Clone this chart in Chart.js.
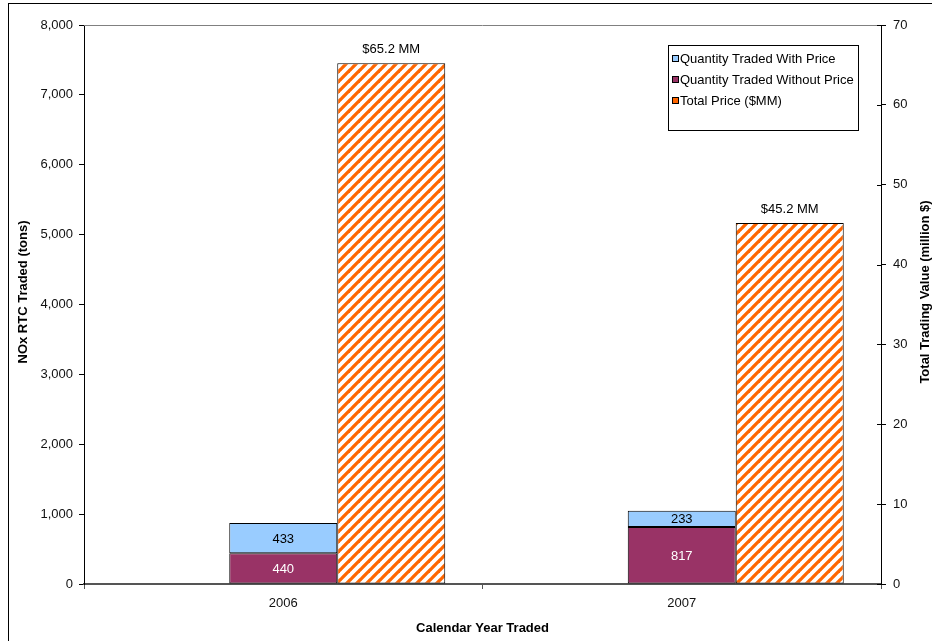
<!DOCTYPE html>
<html>
<head>
<meta charset="utf-8">
<script src="https://cdn.jsdelivr.net/npm/chart.js@4.4.1/dist/chart.umd.min.js"></script>
<style>
  body { margin: 0; background: #fff; }
  #wrap { width: 932px; height: 641px; position: relative; }
</style>
</head>
<body>
<div id="wrap"><canvas id="myChart" width="932" height="641"></canvas></div>
<script>
'use strict';

// data
let years = ['2006', '2007'];
let tradedWithoutPrice = [440, 817];
let tradedWithPrice = [433, 233];
let totalPrice = [65.2, 45.2];
let priceLabels = ['$65.2 MM', '$45.2 MM'];
let leftTicks = [0, 1000, 2000, 3000, 4000, 5000, 6000, 7000, 8000];
let rightTicks = [0, 10, 20, 30, 40, 50, 60, 70];

let font = '"Liberation Sans", Arial, sans-serif';
let blue = '#99CCFF';
let maroon = '#993366';
let orange = '#FF6600';

// orange diagonal stripes like the excel "wide upward diagonal" fill
function makeHatch() {
  let s = 10;
  let c = document.createElement('canvas');
  c.width = s;
  c.height = s;
  let g = c.getContext('2d');
  g.fillStyle = '#fff';
  g.fillRect(0, 0, s, s);
  g.strokeStyle = orange;
  g.lineWidth = 3.3;
  for (let k = -s; k <= s; k += s) {
    g.beginPath();
    g.moveTo(k - 1, s + 1);
    g.lineTo(k + s + 1, -1);
    g.stroke();
  }
  return g.createPattern(c, 'repeat');
}
let hatch = makeHatch();

// legend, labels, titles and frame drawn by hand
let extras = {
  id: 'extras',
  afterDatasetsDraw(chart) {
    let ctx = chart.ctx;
    let area = chart.chartArea;
    ctx.save();

    // outer frame
    ctx.strokeStyle = '#000';
    ctx.lineWidth = 1;
    ctx.strokeRect(8.5, 3.5, 1000, 1000);

    // top edge of plot area
    ctx.strokeStyle = '#808080';
    ctx.beginPath();
    ctx.moveTo(area.left, area.top + 0.5);
    ctx.lineTo(area.right, area.top + 0.5);
    ctx.stroke();

    // right axis ticks cross the axis line
    let y2 = chart.scales.y2;
    ctx.strokeStyle = '#000';
    for (let i = 0; i < rightTicks.length; i++) {
      let py = Math.round(y2.getPixelForValue(rightTicks[i])) + 0.5;
      ctx.beginPath();
      ctx.moveTo(area.right - 4, py);
      ctx.lineTo(area.right, py);
      ctx.stroke();
    }

    // numbers in the stacked segments
    ctx.font = '13px ' + font;
    ctx.textAlign = 'center';
    ctx.textBaseline = 'middle';
    let metaWithout = chart.getDatasetMeta(1);
    let metaWith = chart.getDatasetMeta(2);
    let metaPrice = chart.getDatasetMeta(3);
    for (let i = 0; i < years.length; i++) {
      let b = metaWithout.data[i];
      ctx.fillStyle = '#fff';
      ctx.fillText(String(tradedWithoutPrice[i]), b.x, (b.y + b.base) / 2 + 1);
      let w = metaWith.data[i];
      ctx.fillStyle = '#000';
      ctx.fillText(String(tradedWithPrice[i]), w.x, (w.y + w.base) / 2 + 1);
      let p = metaPrice.data[i];
      ctx.fillText(priceLabels[i], p.x, p.y - 14);
    }

    // axis titles
    ctx.font = 'bold 13px ' + font;
    ctx.fillStyle = '#000';
    ctx.fillText('Calendar Year Traded', (area.left + area.right) / 2, 628);
    ctx.save();
    ctx.translate(23, 292);
    ctx.rotate(-Math.PI / 2);
    ctx.fillText('NOx RTC Traded (tons)', 0, 0);
    ctx.restore();
    ctx.save();
    ctx.translate(925, 292);
    ctx.rotate(-Math.PI / 2);
    ctx.fillText('Total Trading Value (million $)', 0, 0);
    ctx.restore();

    // legend box
    let lx = 668, ly = 45, lw = 190, lh = 85;
    ctx.fillStyle = '#fff';
    ctx.fillRect(lx, ly, lw, lh);
    ctx.strokeStyle = '#000';
    ctx.strokeRect(lx + 0.5, ly + 0.5, lw, lh);
    // the marker is too small to show stripes, so plain orange
    let items = [
      { text: 'Quantity Traded With Price', fill: blue },
      { text: 'Quantity Traded Without Price', fill: maroon },
      { text: 'Total Price ($MM)', fill: orange }
    ];
    ctx.font = '13px ' + font;
    ctx.textAlign = 'left';
    for (let i = 0; i < items.length; i++) {
      let ry = ly + 14 + i * 21;
      ctx.fillStyle = items[i].fill;
      ctx.fillRect(lx + 4, ry - 4, 7, 7);
      ctx.strokeStyle = '#000';
      ctx.strokeRect(lx + 4.5, ry - 3.5, 6, 6);
      ctx.fillStyle = '#000';
      ctx.fillText(items[i].text, lx + 12, ry);
    }

    ctx.restore();
  }
};

const ctx = document.getElementById('myChart');

new Chart(ctx, {
  type: 'bar',
  data: {
    labels: years,
    datasets: [
      // empty slot so the stacked bar sits in the middle of the category
      { label: 'spacer', data: [null, null], stack: 'spacer', yAxisID: 'y' },
      {
        label: 'Quantity Traded Without Price',
        data: tradedWithoutPrice,
        stack: 'qty',
        yAxisID: 'y',
        backgroundColor: maroon,
        borderColor: '#000',
        borderWidth: 1,
        borderSkipped: false
      },
      {
        label: 'Quantity Traded With Price',
        data: tradedWithPrice,
        stack: 'qty',
        yAxisID: 'y',
        backgroundColor: blue,
        borderColor: '#000',
        borderWidth: 1,
        borderSkipped: false
      },
      {
        label: 'Total Price ($MM)',
        data: totalPrice,
        stack: 'price',
        yAxisID: 'y2',
        backgroundColor: hatch,
        borderColor: '#000',
        borderWidth: 1,
        borderSkipped: false
      }
    ]
  },
  options: {
    responsive: false,
    animation: false,
    categoryPercentage: 0.813,
    barPercentage: 1.0,
    layout: { padding: { top: 25, left: 0, right: 0, bottom: 0 } },
    plugins: {
      legend: { display: false },
      tooltip: { enabled: false }
    },
    scales: {
      x: {
        offset: true,
        grid: {
          offset: true,
          drawOnChartArea: false,
          tickLength: 5,
          color: '#555'
        },
        border: { color: '#555', width: 2 },
        ticks: { color: '#111', font: { family: font, size: 13 }, padding: 7 },
        afterFit(scale) { scale.height = 57; }
      },
      y: {
        position: 'left',
        stacked: true,
        min: 0,
        max: 8000,
        afterBuildTicks(scale) { scale.ticks = leftTicks.map(v => ({ value: v })); },
        grid: { drawOnChartArea: false, tickLength: 5, color: '#000' },
        border: { color: '#000', width: 1 },
        ticks: {
          color: '#111',
          padding: 6,
          font: { family: font, size: 13 },
          callback: v => v.toLocaleString('en-US')
        },
        afterFit(scale) { scale.width = 84; }
      },
      y2: {
        position: 'right',
        stacked: true,
        min: 0,
        max: 70,
        afterBuildTicks(scale) { scale.ticks = rightTicks.map(v => ({ value: v })); },
        grid: { drawOnChartArea: false, tickLength: 5, color: '#000' },
        border: { color: '#000', width: 1 },
        ticks: { color: '#111', padding: 7, font: { family: font, size: 13 } },
        afterFit(scale) { scale.width = 51; }
      }
    }
  },
  plugins: [extras]
});
</script>
</body>
</html>
